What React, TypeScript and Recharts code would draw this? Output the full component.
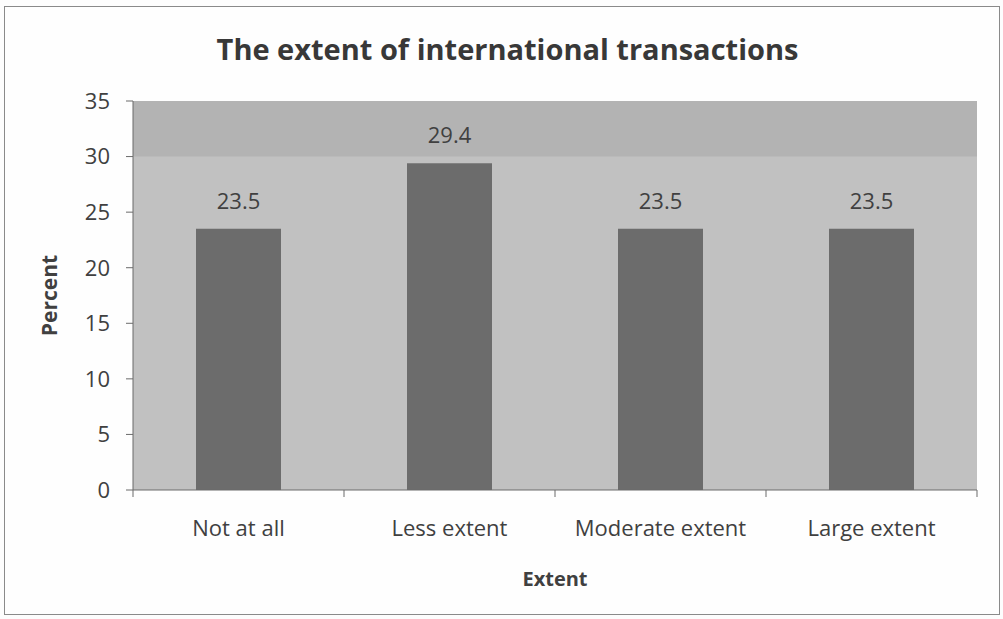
import React from 'react';
import { BarChart, Bar, XAxis, YAxis, CartesianGrid, LabelList, ReferenceArea, Label } from 'recharts';

const categories = ['Not at all', 'Less extent', 'Moderate extent', 'Large extent'];
const percents = [23.5, 29.4, 23.5, 23.5];
const yTicks = [0, 5, 10, 15, 20, 25, 30, 35];
const boundaryTicks = [0, 1, 2, 3, 4];

const data = categories.map((c, i) => ({ name: c, value: percents[i], idx: i + 0.5 }));

const FONT = '"Open Sans", Lato, sans-serif';
const TEXT = '#404040';

export default function App() {
  return (
    <div style={{ position: 'absolute', left: 0, top: 0, width: 1003, height: 619, background: '#fdfdfd', fontFamily: FONT }}>
      <div style={{ position: 'absolute', left: 4, top: 6, width: 994, height: 607, border: '1px solid #8a8a8a', background: '#fefefe' }} />
      <div style={{ position: 'absolute', left: 0, width: 1015, top: 29, textAlign: 'center', fontSize: 29, fontWeight: 700, color: '#383838', letterSpacing: 0 }}>
        The extent of international transactions
      </div>
      <div style={{ position: 'absolute', left: 0, top: 0 }}>
        <BarChart width={1003} height={619} data={data} margin={{ top: 101, right: 26, left: 0, bottom: 40 }} barCategoryGap="30%">
          <CartesianGrid horizontal={false} vertical={false} fill="#c1c1c1" />
          <ReferenceArea yAxisId="y" y1={30} y2={35} fill="#b3b3b3" fillOpacity={1} stroke="none" ifOverflow="visible" />
          <XAxis xAxisId="b" type="number" dataKey="idx" domain={[0, 4]} ticks={boundaryTicks} height={1} tickSize={7}
            stroke="#6a6a6a" tickFormatter={() => ''} allowDataOverflow />
          <XAxis xAxisId="cat" dataKey="name" height={88} axisLine={false} tickLine={false} tickMargin={23}
            tick={{ fontSize: 22, fill: TEXT, fontFamily: FONT }} interval={0}>
            <Label value="Extent" position="insideBottom" offset={-7} style={{ fontSize: 20, fontWeight: 700, fill: TEXT, fontFamily: FONT }} />
          </XAxis>
          <YAxis yAxisId="y" domain={[0, 35]} ticks={yTicks} width={133} tickSize={7} tickMargin={16} stroke="#6a6a6a"
            tick={{ fontSize: 22, fill: TEXT, fontFamily: FONT }} interval={0}>
            <Label value="Percent" angle={-90} position="insideLeft" offset={50} style={{ fontSize: 21, fontWeight: 700, fill: TEXT, fontFamily: FONT, textAnchor: 'middle' }} />
          </YAxis>
          <Bar xAxisId="cat" yAxisId="y" dataKey="value" fill="#6c6c6c" isAnimationActive={false} barSize={85}>
            <LabelList dataKey="value" position="top" offset={20} style={{ fontSize: 22, fill: TEXT, fontFamily: FONT }} formatter={(v: number) => v.toFixed(1)} />
          </Bar>
        </BarChart>
      </div>
    </div>
  );
}
